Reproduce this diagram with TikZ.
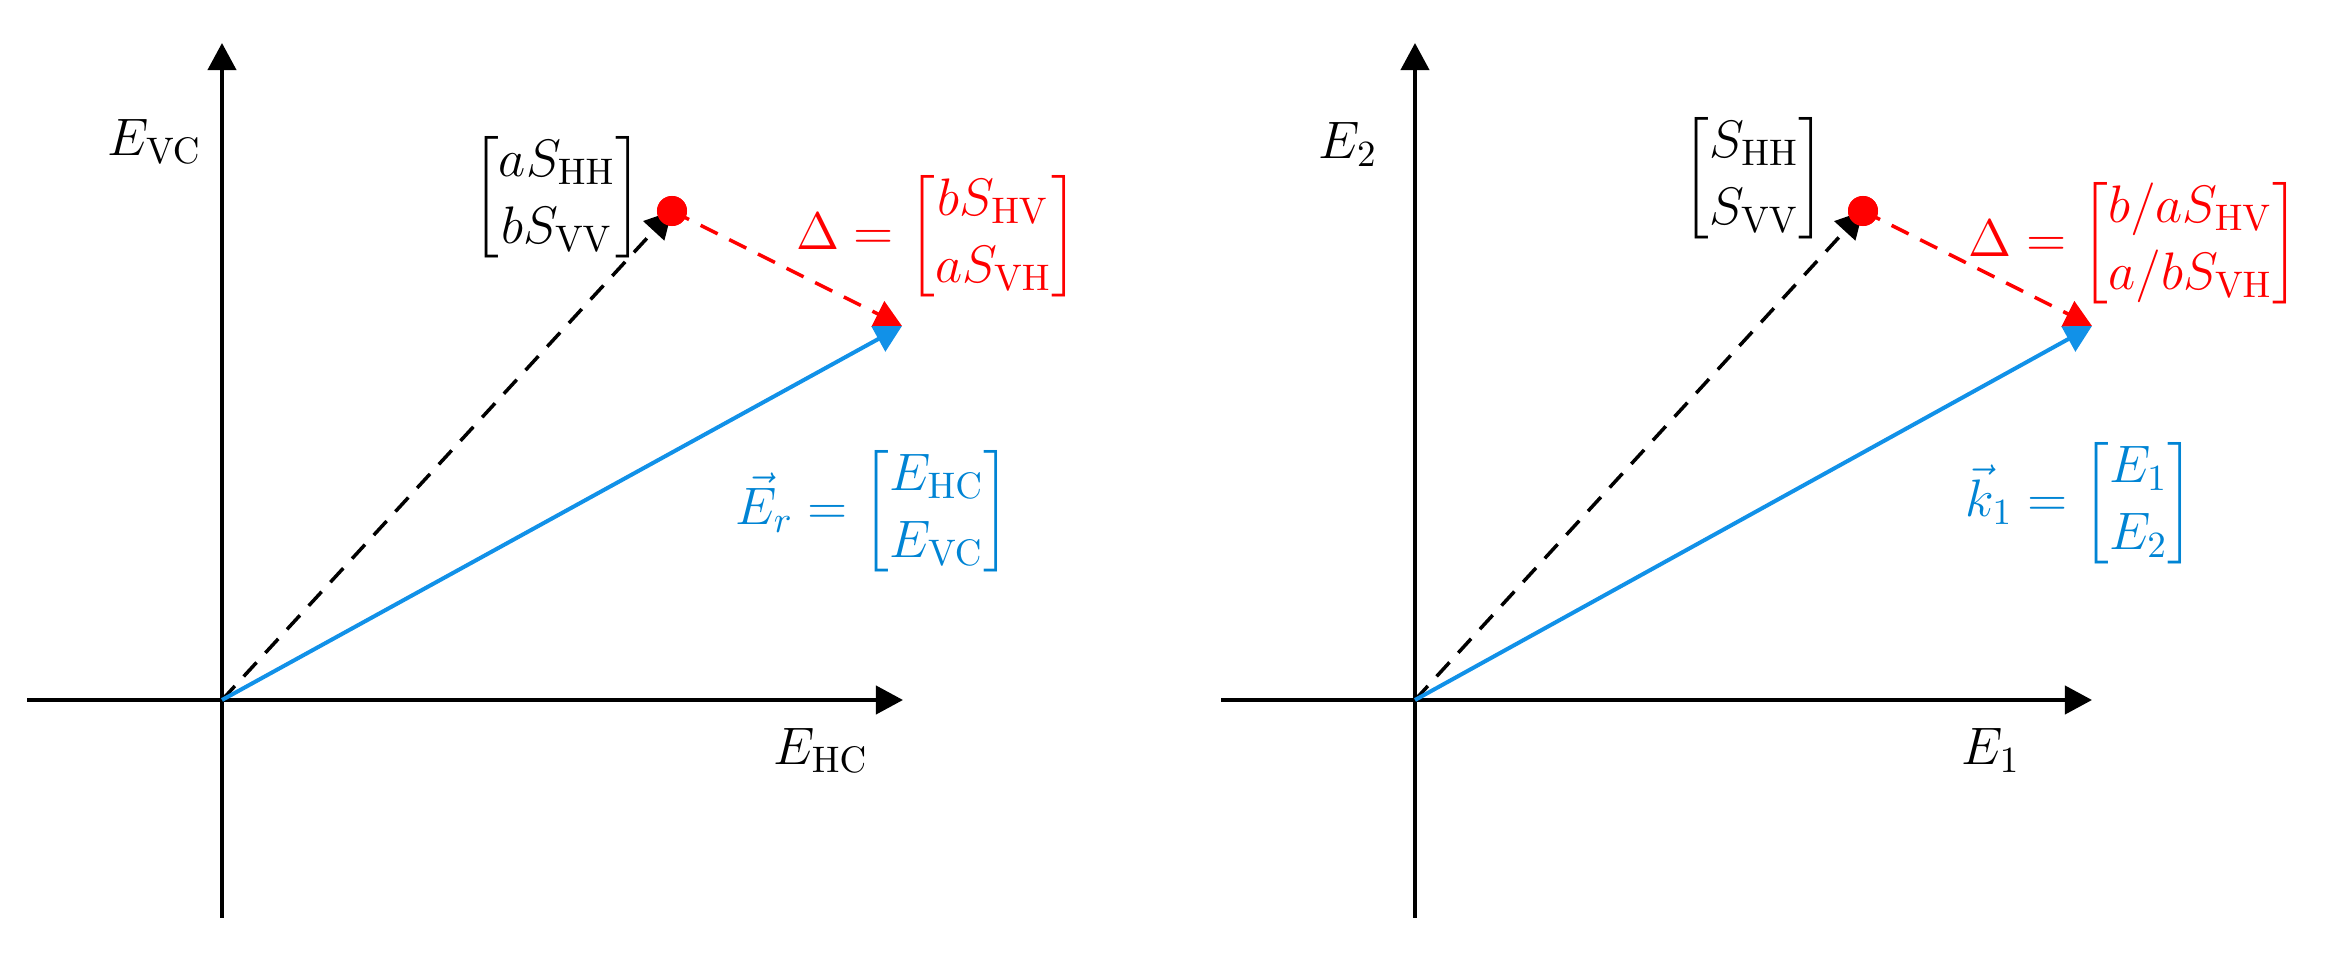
\documentclass[tikz,border=0pt]{standalone}
\usepackage{fix-cm}
\usepackage{amsmath}
\usetikzlibrary{arrows.meta}
\definecolor{lblue}{RGB}{17,145,232}
\definecolor{tblue}{RGB}{0,132,212}
\definecolor{pred}{RGB}{255,0,0}
\tikzset{
  tip/.style={-{Triangle[length=0.27cm,width=0.28cm]}},
  axisline/.style={line width=0.04cm, tip},
  blackvec/.style={line width=0.035cm, dash pattern=on 0.19cm off 0.13cm, tip},
  redvec/.style={pred, line width=0.035cm, dash pattern=on 0.19cm off 0.13cm, tip},
  bluevec/.style={lblue, line width=0.04cm, tip},
  dotnode/.style={circle, fill=pred, inner sep=0pt, minimum size=0.3cm},
  lbl/.style={inner sep=0pt, font=\fontsize{15}{19}\selectfont},
}
\begin{document}
\begin{tikzpicture}[x=0.01cm,y=-0.01cm]
\useasboundingbox (0,0) rectangle (2341,961);
% ---------- left panel ----------
\coordinate (O1) at (222,700);
\coordinate (xl1) at (27,700);
\coordinate (xr1) at (903,700);
\coordinate (yb1) at (222,918);
\coordinate (yt1) at (222,43);
\coordinate (T1) at (902,326);
\node[dotnode] (D1) at (672,211) {};
\draw[axisline] (xl1) -- (xr1);
\draw[axisline] (yb1) -- (yt1);
\draw[blackvec] (O1) -- (D1.center);
\draw[redvec] (D1.center) -- (T1);
\draw[bluevec] (O1) -- (T1);
\node[dotnode] at (D1) {};
\node[lbl, anchor=base east] (lEVC) at (202,156) {$E_{\mathrm{VC}}$};
\node[lbl, anchor=base west] (lEHC) at (773,765) {$E_{\mathrm{HC}}$};
\node[lbl] (lS) at (557,197) {$\begin{bmatrix} aS_{\mathrm{HH}}\\ bS_{\mathrm{VV}}\end{bmatrix}$};
\node[lbl, text=pred] (lD) at (937,236) {$\Delta=\begin{bmatrix} bS_{\mathrm{HV}}\\ aS_{\mathrm{VH}}\end{bmatrix}$};
\node[lbl, text=tblue] (lE) at (873,511) {$\vec{E}_r=\begin{bmatrix} E_{\mathrm{HC}}\\ E_{\mathrm{VC}}\end{bmatrix}$};
% ---------- right panel ----------
\coordinate (O2) at (1415,700);
\coordinate (xl2) at (1221,700);
\coordinate (xr2) at (2092,700);
\coordinate (yb2) at (1415,918);
\coordinate (yt2) at (1415,43);
\coordinate (T2) at (2092,326);
\node[dotnode] (D2) at (1863,211) {};
\draw[axisline] (xl2) -- (xr2);
\draw[axisline] (yb2) -- (yt2);
\draw[blackvec] (O2) -- (D2.center);
\draw[redvec] (D2.center) -- (T2);
\draw[bluevec] (O2) -- (T2);
\node[dotnode] at (D2) {};
\node[lbl, anchor=base east] (rE2) at (1378,159) {$E_{2}$};
\node[lbl, anchor=base west] (rE1) at (1961,765) {$E_{1}$};
\node[lbl] (rS) at (1754,178) {$\begin{bmatrix} S_{\mathrm{HH}}\\ S_{\mathrm{VV}}\end{bmatrix}$};
\node[lbl, text=pred] (rD) at (2134,243) {$\Delta=\begin{bmatrix} b/aS_{\mathrm{HV}}\\ a/bS_{\mathrm{VH}}\end{bmatrix}$};
\node[lbl, text=tblue] (rk) at (2080,503) {$\vec{k}_1=\begin{bmatrix} E_{1}\\ E_{2}\end{bmatrix}$};
\end{tikzpicture}
\end{document}
